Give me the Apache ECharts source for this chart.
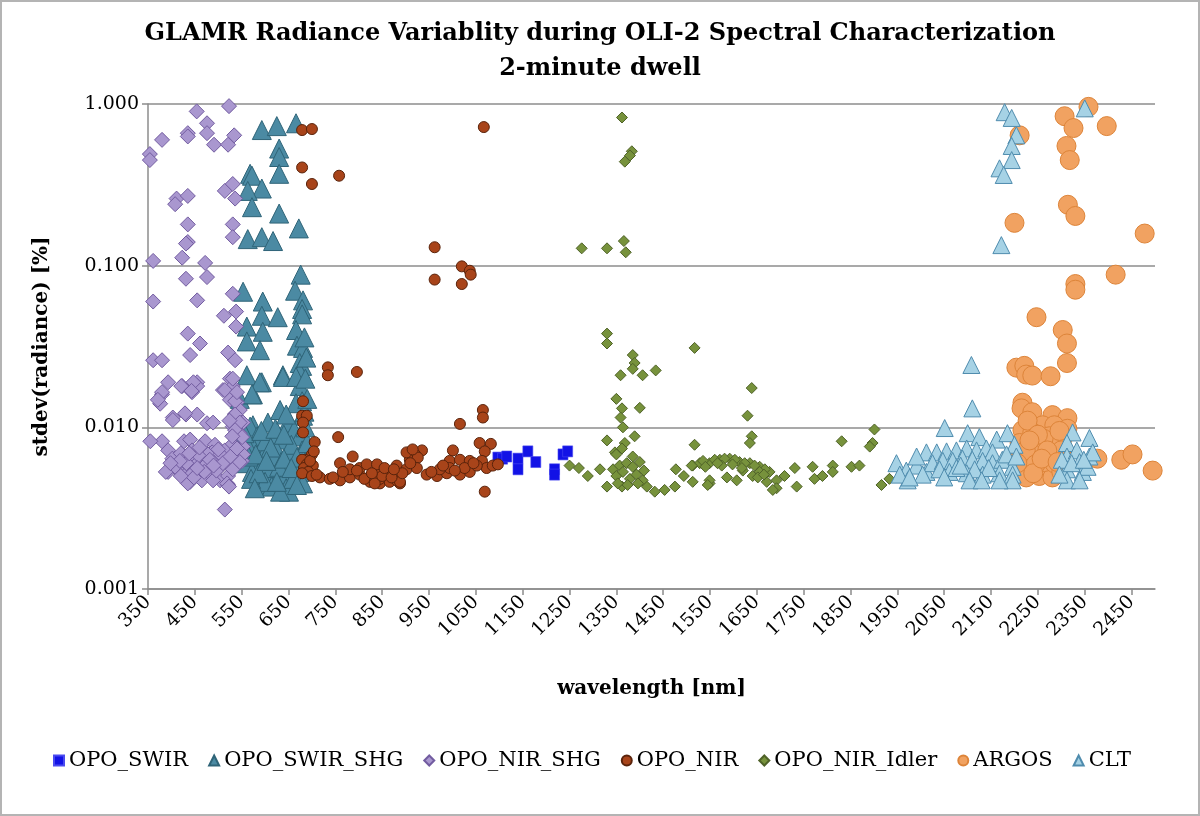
<!DOCTYPE html>
<html>
<head>
<meta charset="utf-8">
<script src="https://cdn.jsdelivr.net/npm/echarts@6/dist/echarts.min.js"></script>
<style>
  html, body { margin: 0; padding: 0; background: #fff; }
  #chart { width: 1200px; height: 816px; box-sizing: border-box; border: 2px solid #b4b4b4; }
</style>
</head>
<body>
<div id="chart"></div>
<script>
// ---- data: [wavelength nm, stdev(radiance) %] ----
const titleLines = ['GLAMR Radiance Variablity during OLI-2 Spectral Characterization', '2-minute dwell'];
const seriesNames = ['OPO_SWIR', 'OPO_SWIR_SHG', 'OPO_NIR_SHG', 'OPO_NIR', 'OPO_NIR_Idler', 'ARGOS', 'CLT'];
const yTickValues = [0.001, 0.01, 0.1, 1];

const opoSwir = [
  [1097,0.0065],[1107,0.0064],[1116,0.0066],[1140,0.0064],[1140,0.0055],[1161,0.0071],
  [1178,0.0061],[1218,0.0055],[1218,0.0051],[1236,0.0068],[1246,0.0071]
];

const opoSwirShg = [
  [593,0.69],[625,0.73],[666,0.76],[630,0.53],[630,0.47],[630,0.37],[568,0.37],[572,0.36],
  [593,0.30],[563,0.29],[572,0.23],[630,0.21],[563,0.146],[593,0.150],[617,0.142],[672,0.17],
  [553,0.069],[676,0.088],[664,0.070],[681,0.061],[595,0.060],[679,0.054],[593,0.049],[627,0.048],
  [679,0.050],[561,0.042],[595,0.039],[666,0.040],[561,0.034],[589,0.030],[668,0.032],[681,0.031],
  [674,0.025],[679,0.024],[561,0.021],[593,0.019],[638,0.021],[674,0.022],[674,0.018],[546,0.015],
  [574,0.016],[632,0.0128],[679,0.0145],[681,0.0118],[606,0.0107],[574,0.0103],
  [589,0.019],[638,0.0205],[666,0.0205],[572,0.016],[666,0.0141],[568,0.0101],[649,0.0107],
  [583,0.0088],[617,0.0090],[638,0.0084],[662,0.0096],[674,0.0088],[553,0.0072],[574,0.0076],
  [600,0.0070],[625,0.0072],[651,0.0070],[679,0.0072],[557,0.0060],[583,0.0060],[610,0.0059],
  [634,0.0061],[664,0.0060],[685,0.0061],[572,0.0053],[595,0.0050],[617,0.0053],[645,0.0051],
  [674,0.0053],[589,0.0044],[614,0.0043],[645,0.0042],[681,0.0045],[651,0.0040],[632,0.0040],
  [560,0.0080],[600,0.0082],[620,0.0066],[656,0.0078],[676,0.0068],[565,0.0066],[605,0.0056],
  [630,0.0057],[660,0.0048],[678,0.0058],[600,0.0046],[570,0.0048],[640,0.0064],[690,0.0080],
  [686,0.0100],[684,0.0125],[556,0.0092],[592,0.0095],[622,0.0098],[645,0.0120],
  [580,0.0068],[612,0.0075],[668,0.0065],[586,0.0052],[625,0.0046],[656,0.0056],[603,0.0062],
  [578,0.0042],[668,0.0044],[640,0.0090],[690,0.0150],[686,0.0200],[688,0.0270],[684,0.0360]
];

const opoNirShg = [
  [454,0.90],[523,0.97],[476,0.76],[476,0.66],[435,0.66],[435,0.63],[380,0.60],[354,0.49],
  [354,0.45],[491,0.56],[521,0.56],[534,0.64],[411,0.26],[408,0.24],[435,0.27],[514,0.29],
  [536,0.26],[531,0.32],[435,0.18],[435,0.14],[431,0.137],[531,0.18],[531,0.15],[361,0.107],
  [423,0.112],[472,0.104],[476,0.085],[431,0.083],[455,0.061],[361,0.060],[531,0.067],[512,0.049],
  [538,0.052],[538,0.042],[435,0.038],[461,0.033],[361,0.026],[380,0.026],[440,0.028],[521,0.029],
  [536,0.026],[393,0.019],[380,0.016],[376,0.014],[423,0.018],[455,0.019],[455,0.018],[444,0.0165],
  [525,0.020],[531,0.018],[510,0.017],[431,0.012],[455,0.012],[403,0.0115],[476,0.0106],[489,0.0107],
  [421,0.018],[447,0.019],[443,0.0168],[380,0.0165],[371,0.0148],[403,0.0111],[429,0.0122],
  [380,0.0082],[393,0.0072],[427,0.0082],[440,0.0084],[472,0.0082],[493,0.0078],[444,0.0072],
  [465,0.0071],[487,0.0070],[514,0.0072],[427,0.0065],[450,0.0063],[468,0.0065],[493,0.0065],
  [514,0.0063],[416,0.0057],[440,0.0057],[461,0.0056],[482,0.0057],[504,0.0057],[525,0.0058],
  [393,0.0053],[412,0.0055],[427,0.0050],[440,0.0046],[463,0.0049],[487,0.0050],[504,0.0047],
  [521,0.0050],[521,0.0044],[514,0.0031],[531,0.020],[514,0.0170],[525,0.0148],[540,0.0143],
  [536,0.0121],[546,0.0128],[553,0.0107],[531,0.0101],[546,0.0092],[553,0.0076],[546,0.0067],
  [551,0.0062],[531,0.0055],[536,0.0145],[536,0.012],[546,0.0107],[536,0.0096],[551,0.0087],
  [531,0.0079],[553,0.0068],[546,0.0061],[388,0.0053],[408,0.0057],[435,0.0045],[465,0.0047],
  [489,0.0047],[519,0.0045],[523,0.0043],[355,0.0082],[402,0.0064],[455,0.0060],[498,0.0061],
  [420,0.0069],[478,0.0068],[505,0.0068],[445,0.0052],
  [432,0.0060],[458,0.0067],[474,0.0059],[496,0.0054],[510,0.0060],[418,0.0062],[448,0.0049],
  [470,0.0053],[482,0.0063],[438,0.0069],[500,0.0073],[460,0.0075],[526,0.0066],[540,0.0074],
  [420,0.0050],[455,0.0056],[490,0.0058],[398,0.0060],[530,0.0088],[524,0.0110],[540,0.0165]
];

const opoNir = [
  [679,0.69],[700,0.70],[679,0.405],[700,0.32],[758,0.36],[1067,0.72],
  [962,0.130],[962,0.082],[1020,0.099],[1020,0.077],[1037,0.093],[1039,0.088],
  [734,0.0235],[734,0.021],[796,0.022],[681,0.0145],[679,0.0118],[689,0.0118],[681,0.0107],
  [681,0.0093],[756,0.0087],[706,0.0081],[787,0.0066],[1065,0.0128],[1065,0.0115],[1016,0.0105],
  [1058,0.0080],[1082,0.0079],[1001,0.0072],[1069,0.0071],[935,0.0072],[920,0.0068],[760,0.0060],
  [700,0.0068],[685,0.0063],[702,0.0058],[909,0.0063],[926,0.0065],[994,0.0062],[1016,0.0063],
  [1037,0.0062],[1063,0.0062],[1069,0.0040],
  [717,0.0049],[738,0.0048],[760,0.0047],[781,0.0049],[802,0.0051],[824,0.0046],[845,0.0045],
  [866,0.0046],[888,0.0045],[860,0.0053],[839,0.0054],[881,0.0058],[902,0.0055],[924,0.0056],
  [945,0.0051],[967,0.0050],[988,0.0052],[1016,0.0051],[1037,0.0053],[781,0.0055],[802,0.0056],
  [817,0.0059],[839,0.0059],[902,0.0070],[915,0.0073],[881,0.0047],[845,0.0048],[834,0.0045],
  [888,0.0046],[745,0.0049],[766,0.0053],[796,0.0054],[1073,0.0056],[1086,0.0058],[1097,0.0059],
  [1052,0.0058],[1026,0.0056],[994,0.0056],[973,0.0055],
  [679,0.0063],[689,0.0059],[683,0.0056],[692,0.0053],[679,0.0052],[700,0.0050],[710,0.0051],
  [696,0.0062],[704,0.0071],[850,0.0050],[870,0.0049],[893,0.0052],[812,0.0048],[828,0.0052],
  [855,0.0056],[875,0.0055],[910,0.0060],[955,0.0053],[980,0.0058],[1005,0.0054],[1045,0.0060]
];

const opoNirIdler = [
  [1362,0.825],[1383,0.51],[1379,0.48],[1368,0.44],[1276,0.128],[1330,0.128],[1366,0.142],[1370,0.121],
  [1330,0.038],[1330,0.033],[1517,0.031],[1385,0.028],[1389,0.025],[1385,0.023],[1406,0.021],
  [1434,0.0225],[1359,0.021],[1350,0.015],[1400,0.0132],[1639,0.0175],[1362,0.0131],[1359,0.0115],
  [1364,0.0100],[1630,0.0118],[1639,0.0088],[1635,0.0080],[1389,0.0088],[1330,0.0083],[1368,0.0080],
  [1517,0.0078],[1901,0.0097],[1897,0.0080],[1891,0.0076],[1831,0.0082],[1347,0.0070],[1385,0.0066],
  [1250,0.0058],[1270,0.0056],[1289,0.0050],[1315,0.0055],[1330,0.0043],[1362,0.0043],[1415,0.0043],
  [1432,0.0040],[1453,0.0041],[1475,0.0043],[1477,0.0055],[1494,0.0050],[1513,0.0058],[1513,0.0046],
  [1549,0.0045],[1549,0.0047],[1528,0.0060],[1549,0.0060],[1571,0.0063],[1592,0.0064],[1613,0.0061],
  [1635,0.0060],[1656,0.0057],[1677,0.0053],[1692,0.0047],[1692,0.0042],[1586,0.0049],[1607,0.0047],
  [1641,0.0050],[1671,0.0046],[1709,0.0050],[1731,0.0056],[1735,0.0043],[1769,0.0057],[1773,0.0048],
  [1790,0.0050],[1812,0.0058],[1812,0.0053],[1852,0.0057],[1869,0.0058],[1916,0.0044],[1933,0.0048],
  [1343,0.0055],[1357,0.0058],[1372,0.0060],[1385,0.0057],[1400,0.0061],[1350,0.0050],[1364,0.0053],
  [1379,0.0048],[1393,0.0051],[1406,0.0047],[1353,0.0045],[1374,0.0044],[1396,0.0045],[1409,0.0054],
  [1350,0.0068],[1362,0.0074],[1511,0.0058],[1535,0.0062],[1560,0.0063],[1581,0.0064],[1603,0.0063],
  [1624,0.0060],[1645,0.0058],[1667,0.0055],[1545,0.0044],[1620,0.0054],[1656,0.0053],[1684,0.0041],
  [1575,0.0058],[1598,0.0059],[1618,0.0056],[1652,0.0049],[1665,0.0051],[1540,0.0057],[1566,0.0060]
];

const argos = [
  [2358,0.96],[2307,0.84],[2326,0.71],[2397,0.73],[2211,0.64],[2311,0.55],[2318,0.45],[2314,0.238],
  [2330,0.203],[2200,0.184],[2478,0.158],[2416,0.088],[2330,0.077],[2330,0.071],[2247,0.048],
  [2303,0.040],[2312,0.033],[2312,0.025],[2204,0.0234],[2221,0.024],[2225,0.0212],[2238,0.0209],
  [2277,0.0207],[2217,0.0142],[2215,0.0131],[2238,0.0124],[2281,0.0119],[2313,0.0114],[2260,0.0103],
  [2285,0.0103],[2313,0.0098],[2217,0.0096],[2238,0.0093],[2274,0.0088],[2303,0.0086],[2211,0.0080],
  [2236,0.0078],[2260,0.0076],[2290,0.0080],[2211,0.0066],[2232,0.0066],[2253,0.0068],[2274,0.0066],
  [2296,0.0065],[2217,0.0055],[2247,0.0056],[2268,0.0055],[2290,0.0056],[2225,0.0049],[2253,0.0050],
  [2281,0.0049],[2377,0.0064],[2428,0.0063],[2452,0.0068],[2495,0.0054],[2224,0.0072],[2264,0.0061],
  [2245,0.0059],[2285,0.0060],[2300,0.0072],[2262,0.0085],
  [2228,0.0110],[2250,0.0090],[2296,0.0095],[2270,0.0072],[2240,0.0052],[2300,0.0053],[2206,0.0060],
  [2258,0.0064],[2292,0.0061],[2232,0.0083]
];

const clt = [
  [2179,0.89],[2194,0.82],[2204,0.64],[2194,0.55],[2194,0.45],[2168,0.40],[2177,0.364],[2350,0.94],
  [2172,0.134],[2108,0.0243],[2110,0.0131],[2051,0.0099],[1948,0.0060],[1969,0.0054],[1991,0.0058],
  [2012,0.0070],[1991,0.0066],[1972,0.0047],[1955,0.0051],[2012,0.0053],[2100,0.0092],[2125,0.0087],
  [2162,0.0084],[2185,0.0092],[2200,0.0078],[2324,0.0093],[2360,0.0086],[2034,0.0070],[2055,0.0071],
  [2076,0.0072],[2098,0.0074],[2119,0.0072],[2140,0.0074],[2153,0.0070],[2025,0.0060],[2047,0.0062],
  [2068,0.0062],[2089,0.0064],[2110,0.0063],[2132,0.0062],[2153,0.0060],[2174,0.0063],[2196,0.0057],
  [2061,0.0053],[2098,0.0052],[2132,0.0051],[2168,0.0052],[2196,0.0051],[2040,0.0055],[2076,0.0056],
  [2115,0.0055],[2183,0.0068],[2312,0.0080],[2312,0.0066],[2312,0.0055],[2312,0.0047],[2333,0.0072],
  [2339,0.0061],[2346,0.0053],[2360,0.0066],[2356,0.0057],[2301,0.0063],[2296,0.0051],[2339,0.0047],
  [2367,0.0070],[2204,0.0066],[2196,0.0047],[2168,0.0047],[2104,0.0047],[2004,0.0051],[1976,0.0049],
  [2085,0.0058],[2145,0.0056],[2050,0.0049],[2130,0.0047],[2322,0.0060],[2348,0.0063]
];

// ---- styles ----
const FONT = 'DejaVu Serif';
const styles = [
  { data: opoSwir,    symbol: 'rect',     size: [10, 11], color: '#1212e6', border: '#4a4af0', bw: 0.6 },
  { data: opoSwirShg, symbol: 'triangle', size: 19,       color: '#4b8aa3', border: '#2f6478', bw: 1 },
  { data: opoNirShg,  symbol: 'diamond',  size: 15,       color: '#a997cf', border: '#725ca0', bw: 1 },
  { data: opoNir,     symbol: 'circle',   size: 11,       color: '#a8441a', border: '#5a230b', bw: 1 },
  { data: opoNirIdler,symbol: 'diamond',  size: 11,       color: '#77923c', border: '#4f6228', bw: 1 },
  { data: argos,      symbol: 'circle',   size: 19,       color: '#f1a261', border: '#dd8439', bw: 1 },
  { data: clt,        symbol: 'triangle', size: 17,       color: '#a6d2e5', border: '#4f8cae', bw: 1 }
];

const chart = echarts.init(document.getElementById('chart'), null, { renderer: 'canvas' });
chart.setOption({
  animation: false,
  backgroundColor: '#ffffff',
  title: {
    text: titleLines.join('\n'),
    left: 'center',
    top: 9,
    textStyle: { fontFamily: FONT, fontWeight: 'bold', fontSize: 24, lineHeight: 35, color: '#000' }
  },
  grid: { left: 146, right: 43, top: 102, bottom: 225, containLabel: false },
  legend: {
    data: seriesNames,
    left: 46,
    top: 743,
    itemWidth: 10,
    itemHeight: 10,
    itemGap: 20,
    textStyle: { fontFamily: FONT, fontSize: 21, color: '#000' }
  },
  xAxis: {
    type: 'value',
    min: 350,
    max: 2500,
    interval: 100,
    name: 'wavelength [nm]',
    nameLocation: 'middle',
    nameGap: 90,
    nameTextStyle: { fontFamily: FONT, fontWeight: 'bold', fontSize: 20, color: '#000' },
    axisLine: { lineStyle: { color: '#8c8c8c', width: 1.5 } },
    axisTick: { show: true, length: 6, lineStyle: { color: '#8c8c8c', width: 1.5 } },
    axisLabel: { rotate: 45, fontFamily: FONT, fontSize: 19, color: '#000', margin: 10, showMaxLabel: false,
      formatter: v => String(v) },
    splitLine: { show: false }
  },
  yAxis: {
    type: 'log',
    logBase: 10,
    min: yTickValues[0],
    max: yTickValues[yTickValues.length - 1],
    name: 'stdev(radiance) [%]',
    nameLocation: 'middle',
    nameGap: 96,
    nameTextStyle: { fontFamily: FONT, fontWeight: 'bold', fontSize: 20, color: '#000' },
    axisLine: { show: true, lineStyle: { color: '#8c8c8c', width: 1.5 } },
    axisTick: { show: true, length: 6, lineStyle: { color: '#8c8c8c', width: 1.5 } },
    axisLabel: { fontFamily: FONT, fontSize: 19, color: '#000', margin: 9,
      formatter: v => Number(v).toFixed(3) },
    splitLine: { show: true, lineStyle: { color: '#8c8c8c', width: 1.5 } },
    minorTick: { show: false }
  },
  series: styles.map((s, i) => ({
    name: seriesNames[i],
    type: 'scatter',
    data: s.data,
    symbol: s.symbol,
    symbolSize: s.size,
    itemStyle: { color: s.color, borderColor: s.border, borderWidth: s.bw, opacity: 1 },
    z: 2 + i
  }))
});
</script>
</body>
</html>
